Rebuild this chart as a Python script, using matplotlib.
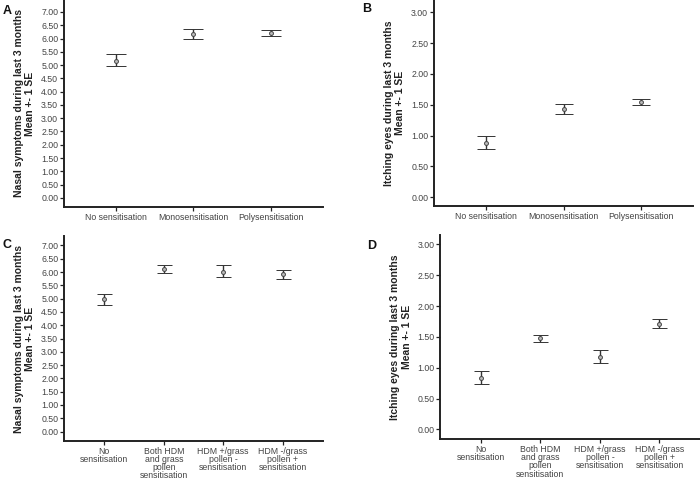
import numpy as np
import matplotlib.pyplot as plt

plt.rcParams['font.family'] = ['Liberation Sans', 'DejaVu Sans']

groups_3 = ['No sensitisation', 'Monosensitisation', 'Polysensitisation']
groups_4 = ['No\nsensitisation', 'Both HDM\nand grass\npollen\nsensitisation',
            'HDM +/grass\npollen -\nsensitisation', 'HDM -/grass\npollen +\nsensitisation']

# panel A: nasal symptoms, 3 groups
nasal3_mean = [5.17, 6.17, 6.20]
nasal3_lo = [4.96, 5.98, 6.10]
nasal3_hi = [5.40, 6.37, 6.31]

# panel B: itching eyes, 3 groups
eyes3_mean = [0.88, 1.43, 1.54]
eyes3_lo = [0.78, 1.345, 1.49]
eyes3_hi = [0.99, 1.52, 1.59]

# panel C: nasal symptoms, 4 groups
nasal4_mean = [4.97, 6.10, 6.02, 5.91]
nasal4_lo = [4.75, 5.98, 5.80, 5.74]
nasal4_hi = [5.18, 6.25, 6.25, 6.07]

# panel D: itching eyes, 4 groups
eyes4_mean = [0.84, 1.475, 1.18, 1.71]
eyes4_lo = [0.74, 1.415, 1.08, 1.645]
eyes4_hi = [0.94, 1.535, 1.28, 1.79]

nasal_ticks = np.arange(0, 7.01, 0.5)
eyes_ticks = np.arange(0, 3.01, 0.5)

nasal_label = 'Nasal symptoms during last 3 months\nMean +- 1 SE'
eyes_label = 'Itching eyes during last 3 months\nMean +- 1 SE'

fig = plt.figure(figsize=(7, 4.8), dpi=100)


def panel(rect, labels, mean, lo, hi, ticks, ylim, ylabel, letter, letter_xy, cap):
    ax = fig.add_axes(rect)
    x = np.arange(len(labels))
    mean = np.array(mean)
    yerr = [mean - np.array(lo), np.array(hi) - mean]
    ax.errorbar(x, mean, yerr=yerr, fmt='o', color='#333333', ecolor='#333333',
                elinewidth=1.0, capsize=cap, capthick=1.0, markersize=2.8,
                markerfacecolor='#bbbbbb', markeredgecolor='#444444', markeredgewidth=0.7)
    ax.set_xlim(-0.68, len(labels) - 1 + 0.68)
    ax.set_ylim(*ylim)
    ax.set_yticks(ticks)
    ax.set_yticklabels([f'{t:.2f}' for t in ticks])
    ax.set_xticks(x)
    ax.set_xticklabels(labels, linespacing=0.88)
    for s in ['top', 'right']:
        ax.spines[s].set_visible(False)
    for s in ['left', 'bottom']:
        ax.spines[s].set_linewidth(1.4)
        ax.spines[s].set_color('#222222')
    ax.tick_params(axis='both', labelsize=6.3, labelcolor='#444444', length=3,
                   width=0.9, color='#222222', pad=1.2)
    ax.set_ylabel(ylabel, fontsize=7.5, fontweight='bold', color='#222222', labelpad=4)
    fig.text(letter_xy[0], letter_xy[1], letter, fontsize=9, fontweight='bold',
             ha='left', va='center', color='#111111')
    return ax


panel([0.0914, 0.569, 0.37, 0.431], groups_3, nasal3_mean, nasal3_lo, nasal3_hi,
      nasal_ticks, (-0.34, 7.45), nasal_label, 'A', (0.004, 0.978), 7.4)
panel([0.62, 0.571, 0.37, 0.429], groups_3, eyes3_mean, eyes3_lo, eyes3_hi,
      eyes_ticks, (-0.14, 3.2), eyes_label, 'B', (0.518, 0.982), 6.4)
panel([0.0914, 0.081, 0.37, 0.427], groups_4, nasal4_mean, nasal4_lo, nasal4_hi,
      nasal_ticks, (-0.36, 7.35), nasal_label, 'C', (0.004, 0.49), 5.4)
panel([0.629, 0.085, 0.371, 0.425], groups_4, eyes4_mean, eyes4_lo, eyes4_hi,
      eyes_ticks, (-0.16, 3.15), eyes_label, 'D', (0.524, 0.488), 5.4)

fig.savefig('out.png', dpi=100)
